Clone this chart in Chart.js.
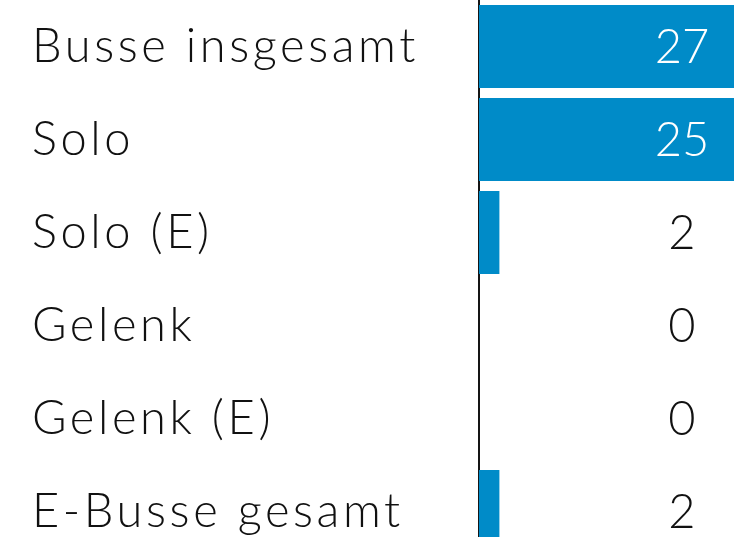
<!DOCTYPE html>
<html>
<head>
<meta charset="utf-8">
<script src="https://cdn.jsdelivr.net/npm/chart.js@4/dist/chart.umd.min.js"></script>
<style>
  html, body { margin: 0; padding: 0; background: #fff; overflow: hidden; }
  #wrap { width: 734px; height: 537px; overflow: hidden; }
</style>
</head>
<body>
<div id="wrap"><canvas id="chart" width="734" height="558"></canvas></div>
<script>
const categories = ['Busse insgesamt', 'Solo', 'Solo (E)', 'Gelenk', 'Gelenk (E)', 'E-Busse gesamt'];
const busCounts = [27, 25, 2, 0, 0, 2];

const BAR_COLOR = '#008bc8';
const FONT = "'Lato', 'Open Sans', sans-serif";

// wider letter spacing for the category labels
const spacing = {
  id: 'spacing',
  beforeDraw(chart) {
    chart.ctx.letterSpacing = '3.6px';
  }
};

// value labels centred in a fixed column near the right edge
const valueLabels = {
  id: 'valueLabels',
  afterDatasetsDraw(chart) {
    const ctx = chart.ctx;
    const meta = chart.getDatasetMeta(0);
    const colX = 682;
    ctx.save();
    ctx.letterSpacing = '0px';
    ctx.font = '300 47px ' + FONT;
    ctx.textAlign = 'center';
    ctx.textBaseline = 'middle';
    meta.data.forEach((bar, i) => {
      const inside = bar.x > colX;
      ctx.fillStyle = inside ? '#ffffff' : '#111111';
      ctx.fillText(String(busCounts[i]), colX, bar.y + 1);
    });
    ctx.restore();
  }
};

new Chart(document.getElementById('chart'), {
  type: 'bar',
  data: {
    labels: categories,
    datasets: [{
      data: busCounts,
      backgroundColor: BAR_COLOR,
      borderWidth: 0,
      barPercentage: 0.892,
      categoryPercentage: 1
    }]
  },
  options: {
    indexAxis: 'y',
    responsive: false,
    animation: false,
    layout: { padding: { left: 32, right: 0, top: 0, bottom: 0 } },
    plugins: {
      legend: { display: false },
      tooltip: { enabled: false }
    },
    scales: {
      x: {
        display: false,
        min: 0,
        max: 25
      },
      y: {
        grid: { display: false },
        border: { display: true, color: '#151515', width: 2 },
        afterFit(scale) {
          scale.width = 447;
          scale.paddingTop = 0;
          scale.paddingBottom = 0;
        },
        ticks: {
          crossAlign: 'far',
          padding: 0,
          color: '#111111',
          font: { family: FONT, size: 47, weight: '300' }
        }
      }
    }
  },
  plugins: [spacing, valueLabels]
});
</script>
</body>
</html>
